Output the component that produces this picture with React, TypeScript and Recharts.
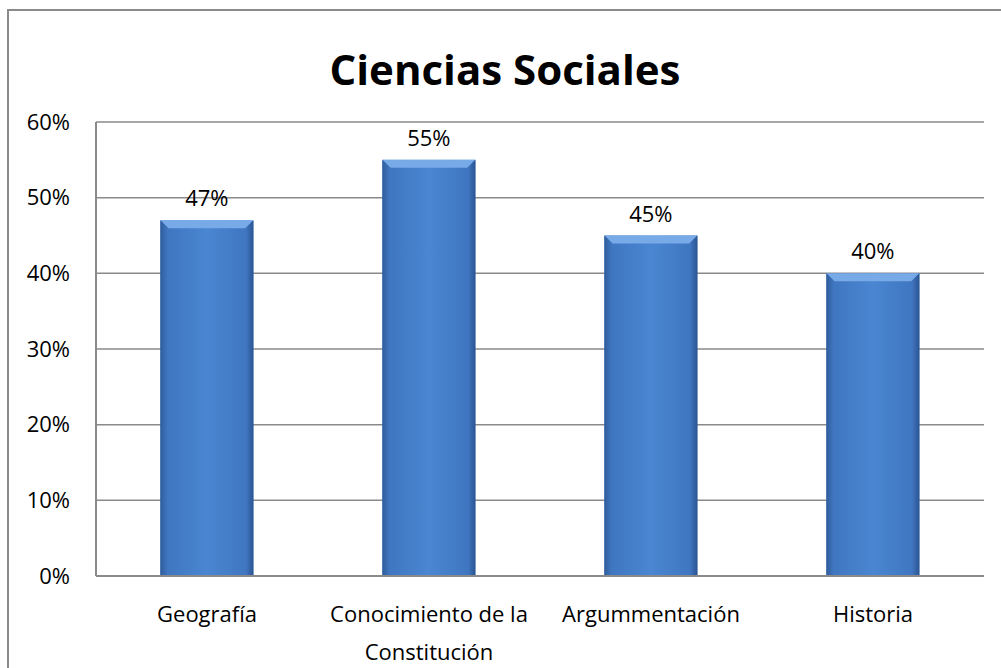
import React from 'react';
import { BarChart, Bar, XAxis, YAxis, CartesianGrid, LabelList } from 'recharts';

const categories = ['Geografía', 'Conocimiento de la Constitución', 'Argummentación', 'Historia'];
const scores = [47, 55, 45, 40];
const yTicks = [0, 10, 20, 30, 40, 50, 60];

const data = categories.map((name, i) => ({ name, value: scores[i] }));

const FONT = '"Open Sans", "Noto Sans", sans-serif';

// simple word wrap by character count
const wrap = (s: string, max: number) => {
  const lines: string[] = [];
  let cur = '';
  s.split(' ').forEach((w) => {
    const next = cur ? `${cur} ${w}` : w;
    if (next.length > max && cur) {
      lines.push(cur);
      cur = w;
    } else {
      cur = next;
    }
  });
  if (cur) lines.push(cur);
  return lines;
};

const BevelBar = (props: any) => {
  const { x, y, width, height } = props;
  if (!height || height <= 0) return null;
  const b = 8;
  return (
    <g>
      <rect x={x} y={y} width={width} height={height} fill="url(#barBody)" />
      <polygon
        points={`${x},${y} ${x + width},${y} ${x + width - b},${y + b} ${x + b},${y + b}`}
        fill="#78aae8"
      />
      <polygon
        points={`${x},${y} ${x + b},${y + b} ${x + b},${y + height} ${x},${y + height}`}
        fill="url(#barLeft)"
      />
      <polygon
        points={`${x + width},${y} ${x + width - b},${y + b} ${x + width - b},${y + height} ${x + width},${y + height}`}
        fill="url(#barRight)"
      />
    </g>
  );
};

const CategoryTick = (props: any) => {
  const { x, y, payload } = props;
  const lines = wrap(payload.value, 18);
  return (
    <text x={x} y={y} textAnchor="middle" fontSize={22} fontFamily={FONT} fill="#000">
      {lines.map((l, i) => (
        <tspan key={i} x={x} dy={i === 0 ? 38 : 38}>
          {l}
        </tspan>
      ))}
    </text>
  );
};

const App = () => {
  return (
    <div style={{ position: 'absolute', left: 0, top: 0, width: 1001, height: 668, background: '#fff', overflow: 'hidden' }}>
      <div
        style={{
          position: 'absolute',
          left: 7,
          top: 9,
          width: 1010,
          height: 700,
          border: '2px solid #8a8a8a',
          boxSizing: 'border-box',
        }}
      />
      <div
        style={{
          position: 'absolute',
          left: 0,
          top: 40,
          width: 1010,
          textAlign: 'center',
          fontFamily: FONT,
          fontWeight: 'bold',
          fontSize: 42,
          lineHeight: '58px',
          color: '#000',
        }}
      >
        Ciencias Sociales
      </div>
      <div style={{ position: 'absolute', left: 0, top: 0 }}>
        <BarChart
          width={1001}
          height={668}
          data={data}
          margin={{ top: 122, right: 17, left: 8, bottom: 32 }}
          barCategoryGap="29%"
        >
          <defs>
            <linearGradient id="barBody" x1="0" y1="0" x2="1" y2="0">
              <stop offset="0%" stopColor="#3d73bd" />
              <stop offset="50%" stopColor="#4a86d2" />
              <stop offset="100%" stopColor="#3d73bd" />
            </linearGradient>
            <linearGradient id="barLeft" x1="0" y1="0" x2="1" y2="0">
              <stop offset="0%" stopColor="#2f5d9c" />
              <stop offset="100%" stopColor="#4279c4" />
            </linearGradient>
            <linearGradient id="barRight" x1="0" y1="0" x2="1" y2="0">
              <stop offset="0%" stopColor="#4279c4" />
              <stop offset="100%" stopColor="#2b5592" />
            </linearGradient>
          </defs>
          <CartesianGrid vertical={false} stroke="#8a8a8a" strokeWidth={1.5} />
          <XAxis
            dataKey="name"
            height={60}
            interval={0}
            axisLine={{ stroke: '#8a8a8a', strokeWidth: 2 }}
            tickLine={false}
            tick={<CategoryTick />}
          />
          <YAxis
            width={88}
            domain={[0, 60]}
            ticks={yTicks}
            tickFormatter={(v) => `${v}%`}
            axisLine={{ stroke: '#8a8a8a', strokeWidth: 2 }}
            tickLine={false}
            tickMargin={20}
            tick={{ fontSize: 22, fill: '#000', fontFamily: FONT }}
          />
          <Bar dataKey="value" shape={<BevelBar />} isAnimationActive={false}>
            <LabelList
              dataKey="value"
              position="top"
              offset={14}
              formatter={(v: any) => `${v}%`}
              style={{ fontSize: 22, fill: '#000', fontFamily: FONT }}
            />
          </Bar>
        </BarChart>
      </div>
    </div>
  );
};

export default App;
